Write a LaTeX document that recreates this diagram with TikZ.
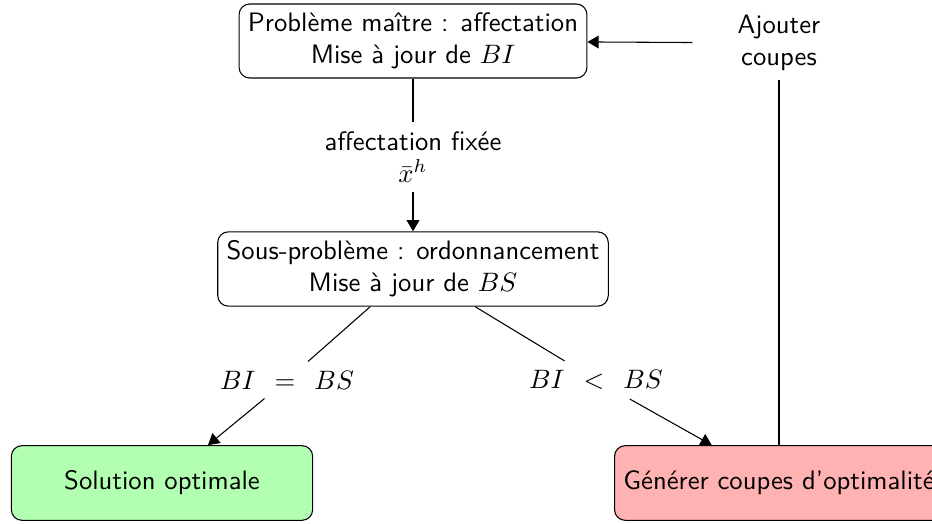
\documentclass[tikz,border=0pt]{standalone}
\usetikzlibrary{arrows.meta}
\begin{document}
\begin{tikzpicture}[x=0.375pt,y=-0.375pt,
  font=\sffamily,
  box/.style={draw=black,rounded corners=4pt,align=center,inner sep=3.33pt},
  okbox/.style={box,fill=green!30,minimum width=113pt,minimum height=28pt},
  cutbox/.style={box,fill=red!30,minimum height=28pt},
  lbl/.style={align=center,inner sep=3.33pt},
  arr/.style={-{Triangle[length=4.2pt,width=4.8pt]}}]
\useasboundingbox (0,0) rectangle (932,523);
\node[box] (master) at (413,41) {Problème maître : affectation\\Mise à jour de $BI$};
\node[lbl,minimum width=64.5pt] (ajout) at (779,43) {Ajouter\\coupes};
\node[lbl] (fix) at (413,157) {affectation fixée\\$\bar{x}^h$};
\node[box] (sub) at (413,269) {Sous-problème : ordonnancement\\Mise à jour de $BS$};
\node[lbl] (eq) at (287,380) {$BI\hspace{4.4pt}=\hspace{4.4pt}BS$};
\node[lbl] (lt) at (596,380) {$BI\hspace{4.4pt}<\hspace{4.4pt}BS$};
\node[okbox] (opt) at (162,483) {Solution optimale};
\node[cutbox] (cut) at (779,483) {Générer coupes d'optimalité};
\draw (master) -- (fix);
\draw[arr] (fix) -- (sub);
\draw (sub) -- (eq);
\draw[arr] (eq) -- (opt);
\draw (sub) -- (lt);
\draw[arr] (lt) -- (cut);
\draw (cut) -- (ajout);
\draw[arr] (ajout) -- (master);
\end{tikzpicture}
\end{document}
